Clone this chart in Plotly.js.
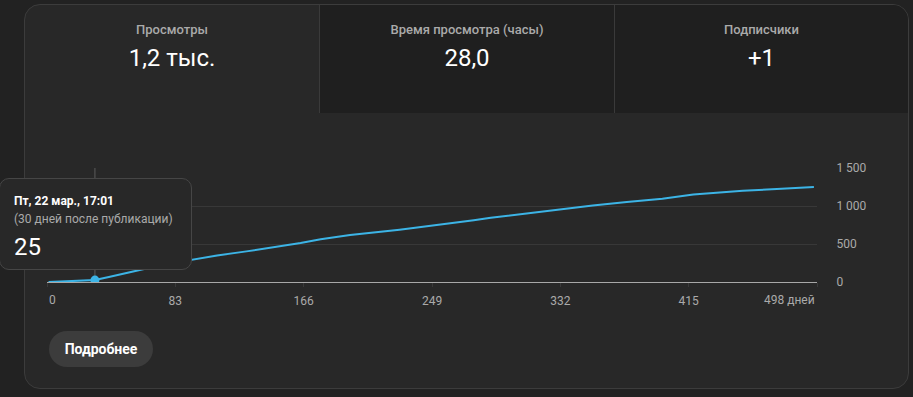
<!DOCTYPE html>
<html><head><meta charset="utf-8">
<script src="https://cdn.plot.ly/plotly-3.0.1.min.js"></script>
<style>
html,body{margin:0;padding:0;width:913px;height:397px;overflow:hidden;background:#222222;font-family:Roboto,"Noto Sans",sans-serif;}
#card{position:absolute;left:24px;top:4px;width:885px;height:385px;box-sizing:border-box;border:1px solid #3c3c3c;border-radius:16px;background:#282828;overflow:hidden;}
.tab{position:absolute;top:0;height:108px;box-sizing:border-box;}
.lbl{position:absolute;left:0;right:0;top:17px;text-align:center;font-size:13px;line-height:16px;font-weight:500;color:#aaaaaa;}
.val{position:absolute;left:0;right:0;top:38px;text-align:center;font-size:24px;line-height:30px;color:#ffffff;}
#plot{position:absolute;left:0;top:0;width:913px;height:397px;z-index:1;}
#tip{position:absolute;left:-1px;top:178px;width:193px;height:92px;box-sizing:border-box;border:1px solid #464646;border-radius:10px;background:#282828;z-index:2;}
#tip div{position:absolute;left:14px;white-space:nowrap;}
#btn{position:absolute;left:49px;top:331px;width:104px;height:36px;border-radius:18px;background:#3c3c3c;color:#fff;font-size:14px;font-weight:700;line-height:36px;text-align:center;z-index:2;}
</style></head>
<body>
<div id="card"></div>
<div id="plot"></div>
<div id="tip"><div id="t1" style="top:15px;font-size:12px;line-height:14px;font-weight:700;color:#fff"></div><div id="t2" style="top:33px;font-size:12px;line-height:15px;color:#aaaaaa"></div><div id="t3" style="top:54px;font-size:24px;line-height:28px;color:#fff"></div></div>
<div id="btn"></div>
<script>
// ---- data ----
var tabLabels = ['Просмотры', 'Время просмотра (часы)', 'Подписчики'];
var tabValues = ['1,2 тыс.', '28,0', '+1'];
var days  = [1, 8, 15, 22, 31, 40, 50, 60, 70, 80, 94, 110, 129, 151, 164, 177, 196, 228, 261, 276, 287, 325, 353, 375, 398, 418, 435, 450, 472, 496];
var views = [0, 5, 10, 16, 25, 65, 114, 162, 205, 245, 293, 350, 403, 468, 513, 563, 618, 688, 767, 812, 845, 942, 1008, 1053, 1096, 1150, 1182, 1201, 1224, 1250];
var xTickVals = [0, 83, 166, 249, 332, 415, 498];
var xTickText = ['0', '83', '166', '249', '332', '415', '498 дней'];
var yTickVals = [0, 500, 1000, 1500];
var yTickText = ['0', '500', '1 000', '1 500'];
var hoverDay = [31];
var hoverViews = [25];
var tipDate = 'Пт, 22 мар., 17:01';
var tipSub = '(30 дней после публикации)';
var buttonText = 'Подробнее';

// ---- card chrome ----
var card = document.getElementById('card');
var tabX = [0, 294, 589], tabW = [294, 295, 294];
for (var i = 0; i < 3; i++) {
  var t = document.createElement('div');
  t.className = 'tab';
  t.style.left = tabX[i] + 'px';
  t.style.width = tabW[i] + 'px';
  if (i > 0) { t.style.background = '#1f1f1f'; t.style.borderLeft = '1px solid #3a3a3a'; }
  t.innerHTML = '<div class="lbl"></div><div class="val"></div>';
  t.children[0].textContent = tabLabels[i];
  t.children[1].textContent = tabValues[i];
  card.appendChild(t);
}
document.getElementById('t1').textContent = tipDate;
document.getElementById('t2').textContent = tipSub;
document.getElementById('t3').textContent = String(hoverViews[0]);
document.getElementById('btn').textContent = buttonText;

// ---- chart ----
var lineColor = '#3cb4e6';
var tickFont = {family: 'Roboto, sans-serif', size: 12, color: '#aaaaaa'};
var midText = xTickText.map(function (s, i) { return (i === 0 || i === xTickText.length - 1) ? '' : s; });
var traces = [
  {x: days, y: views, type: 'scatter', mode: 'lines', line: {color: lineColor, width: 2}, hoverinfo: 'skip'},
  {x: hoverDay, y: hoverViews, type: 'scatter', mode: 'markers', marker: {color: lineColor, size: 9}, hoverinfo: 'skip'}
];
var layout = {
  width: 913, height: 397,
  margin: {l: 47, r: 96, t: 168, b: 115, pad: 0},
  paper_bgcolor: 'rgba(0,0,0,0)', plot_bgcolor: 'rgba(0,0,0,0)',
  showlegend: false,
  xaxis: {range: [0, 498], tickmode: 'array', tickvals: xTickVals, ticktext: midText,
    showgrid: false, zeroline: false, showline: true, linecolor: '#a8a8a8', linewidth: 1,
    ticks: 'outside', ticklen: 4, tickcolor: '#3a3a3a', ticklabelstandoff: 4, tickfont: tickFont, fixedrange: true},
  yaxis: {range: [0, 1500], side: 'right', tickmode: 'array', tickvals: yTickVals, ticktext: yTickText,
    showgrid: true, gridcolor: '#383838', gridwidth: 1, zeroline: false, showline: false,
    ticks: 'outside', ticklen: 16, tickcolor: 'rgba(0,0,0,0)', tickfont: tickFont, fixedrange: true},
  shapes: [
    {type: 'line', xref: 'x', yref: 'y', x0: hoverDay[0], x1: hoverDay[0], y0: hoverViews[0], y1: 1500, line: {color: '#5a5a5a', width: 1}, layer: 'below'}
  ],
  annotations: [
    {xref: 'x', yref: 'paper', x: xTickVals[0], y: 0, xanchor: 'left', yanchor: 'top', yshift: -9, text: xTickText[0], showarrow: false, font: tickFont},
    {xref: 'x', yref: 'paper', x: xTickVals[xTickVals.length - 1], y: 0, xanchor: 'right', yanchor: 'top', yshift: -9, text: xTickText[xTickText.length - 1], showarrow: false, font: tickFont}
  ]
};
Plotly.newPlot('plot', traces, layout, {staticPlot: true, displayModeBar: false});
</script>
</body></html>
